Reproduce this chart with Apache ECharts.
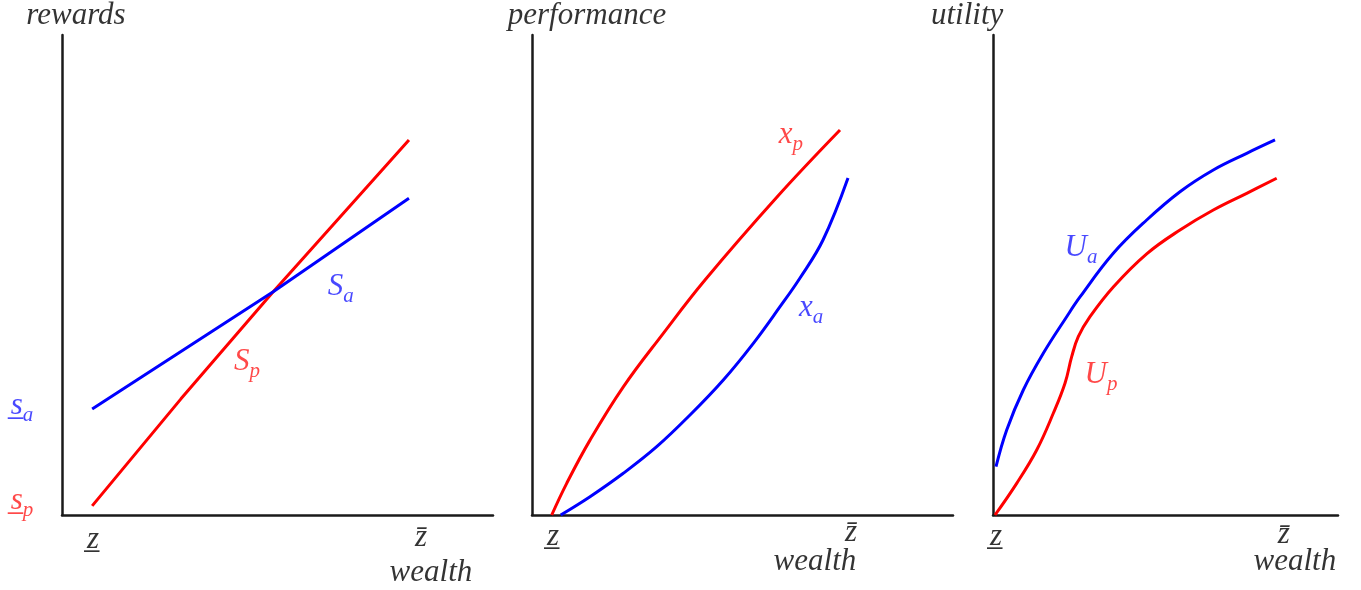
<!DOCTYPE html>
<html>
<head>
<meta charset="utf-8">
<script src="https://cdn.jsdelivr.net/npm/echarts@6/dist/echarts.min.js"></script>
<style>html,body{margin:0;padding:0;background:#fff}#c{width:1361px;height:590px}</style>
</head>
<body>
<div id="c"></div>
<script>
// ---- Panel 1: rewards ----
const rewardsSp = [[7,1.9],[27.6,24.2],[49,46.5],[80.5,78.1]];
const rewardsSa = [[7,22.1],[49,46.5],[80.5,66]];
const labels1 = [
  [3.25,104,'title','rewards'],
  [64.7,47.5,'blue','S|a'],
  [42.9,31.9,'red','S|p'],
  [-9.3,22.7,'blue','s_|a'],
  [-9.3,2.9,'red','s_|p'],
  [7.2,-5.2,'dark','z_'],
  [83.3,-4.8,'dark','z-'],
  [85.6,-12.1,'title','wealth']
];
// ---- Panel 2: performance ----
const perfXp = [[4.68,0],[8.24,6.6],[13.78,15.6],[21.69,26.7],[31.19,37.85],[41.09,48.96],[58.2,66.25],[73.16,80.2]];
const perfXa = [[6.82,0],[13.78,3.81],[21.69,8.69],[29.62,14.23],[37.53,20.83],[45.44,28.13],[52.57,35.77],[58.91,43.4],[63.66,49.38],[69.12,57.29],[75.06,70.21]];
const labels2 = [
  [13.06,104,'title','performance'],
  [61.5,79.2,'red','x|p'],
  [66.3,43.1,'blue','x|a'],
  [5.0,-4.6,'dark','z_'],
  [75.8,-3.75,'dark','z-'],
  [67.2,-9.8,'title','wealth']
];
// ---- Panel 3: utility ----
const utilUa = [[0.87,10.06],[3.97,17.71],[8.78,26.04],[14.58,33.69],[21.36,41.31],[25.22,45.42],[34.87,54.52],[44.55,61.46],[54.2,67.35],[63.86,71.88],[73.54,75.35],[81.74,78.13]];
const utilUp = [[0.58,0],[6.87,6.6],[12.67,13.54],[17.48,21.19],[20.87,27.44],[22.81,32.98],[24.72,37.15],[28.12,41.31],[34.87,47.5],[44.55,54.4],[54.2,59.38],[63.86,63.54],[73.54,67.02],[82.23,70.15]];
const labels3 = [
  [-7.5,104,'title','utility'],
  [25.5,55.6,'blue','U|a'],
  [31.3,29.2,'red','U|p'],
  [0.87,-4.6,'dark','z_'],
  [84.3,-4.2,'dark','z-'],
  [87.5,-9.8,'title','wealth']
];

const RED = '#ff0000', BLUE = '#0000ff', DARK = '#1a1a1a', TEXT = '#000000';
const LRED = '#ff1a1a', LBLUE = '#1a1aff';
const FONT = '"Liberation Serif", "DejaVu Serif", serif';
const colorOf = {title: TEXT, dark: TEXT, red: LRED, blue: LBLUE};

function fmt(code) {
  if (code === 'z_') return '{m|z\u0332}';
  if (code === 'z-') return '{m|z\u0304}';
  if (code.indexOf('|') >= 0) {
    const [a, b] = code.split('|');
    const main = a === 's_' ? 's\u0332' : a;
    return '{m|' + main + '}{s|' + b + '}';
  }
  return '{m|' + code + '}';
}

function labelSeries(arr, gi) {
  return {
    type: 'scatter', xAxisIndex: gi, yAxisIndex: gi, silent: true, clip: false,
    symbolSize: 1, itemStyle: {color: 'rgba(0,0,0,0)'},
    data: arr.map(d => ({
      value: [d[0], d[1]],
      label: {
        show: true, position: 'inside', formatter: fmt(d[3]), color: colorOf[d[2]],
        rich: {
          m: {fontFamily: FONT, fontStyle: 'italic', fontSize: 31, lineHeight: 40, color: colorOf[d[2]]},
          s: {fontFamily: FONT, fontStyle: 'italic', fontSize: 21, lineHeight: 17, verticalAlign: 'bottom', color: colorOf[d[2]]}
        }
      }
    }))
  };
}

function lineSeries(data, gi, color, smooth) {
  return {type: 'line', xAxisIndex: gi, yAxisIndex: gi, data: data, showSymbol: false, symbol: 'none',
    smooth: smooth, lineStyle: {color: color, width: 3}, silent: true, z: 3};
}

const axisLine = {show: true, onZero: false, lineStyle: {color: DARK, width: 2.5}};
const grids = [
  {left: 62, top: 35, width: 431, height: 480},
  {left: 532, top: 35, width: 421, height: 480},
  {left: 993, top: 35, width: 345, height: 480}
];
const xAxes = grids.map((g, i) => ({gridIndex: i, type: 'value', min: 0, max: 100,
  axisLine: axisLine, axisTick: {show: false}, axisLabel: {show: false}, splitLine: {show: false}}));
const yAxes = grids.map((g, i) => ({gridIndex: i, type: 'value', min: 0, max: 100,
  axisLine: axisLine, axisTick: {show: false}, axisLabel: {show: false}, splitLine: {show: false}}));

const chart = echarts.init(document.getElementById('c'), null, {renderer: 'canvas'});
chart.setOption({
  animation: false,
  backgroundColor: '#ffffff',
  grid: grids,
  xAxis: xAxes,
  yAxis: yAxes,
  series: [
    lineSeries(rewardsSp, 0, RED, false),
    lineSeries(rewardsSa, 0, BLUE, false),
    lineSeries(perfXp, 1, RED, 0.4),
    lineSeries(perfXa, 1, BLUE, 0.4),
    lineSeries(utilUa, 2, BLUE, 0.4),
    lineSeries(utilUp, 2, RED, 0.4),
    labelSeries(labels1, 0),
    labelSeries(labels2, 1),
    labelSeries(labels3, 2)
  ]
});
</script>
</body>
</html>
